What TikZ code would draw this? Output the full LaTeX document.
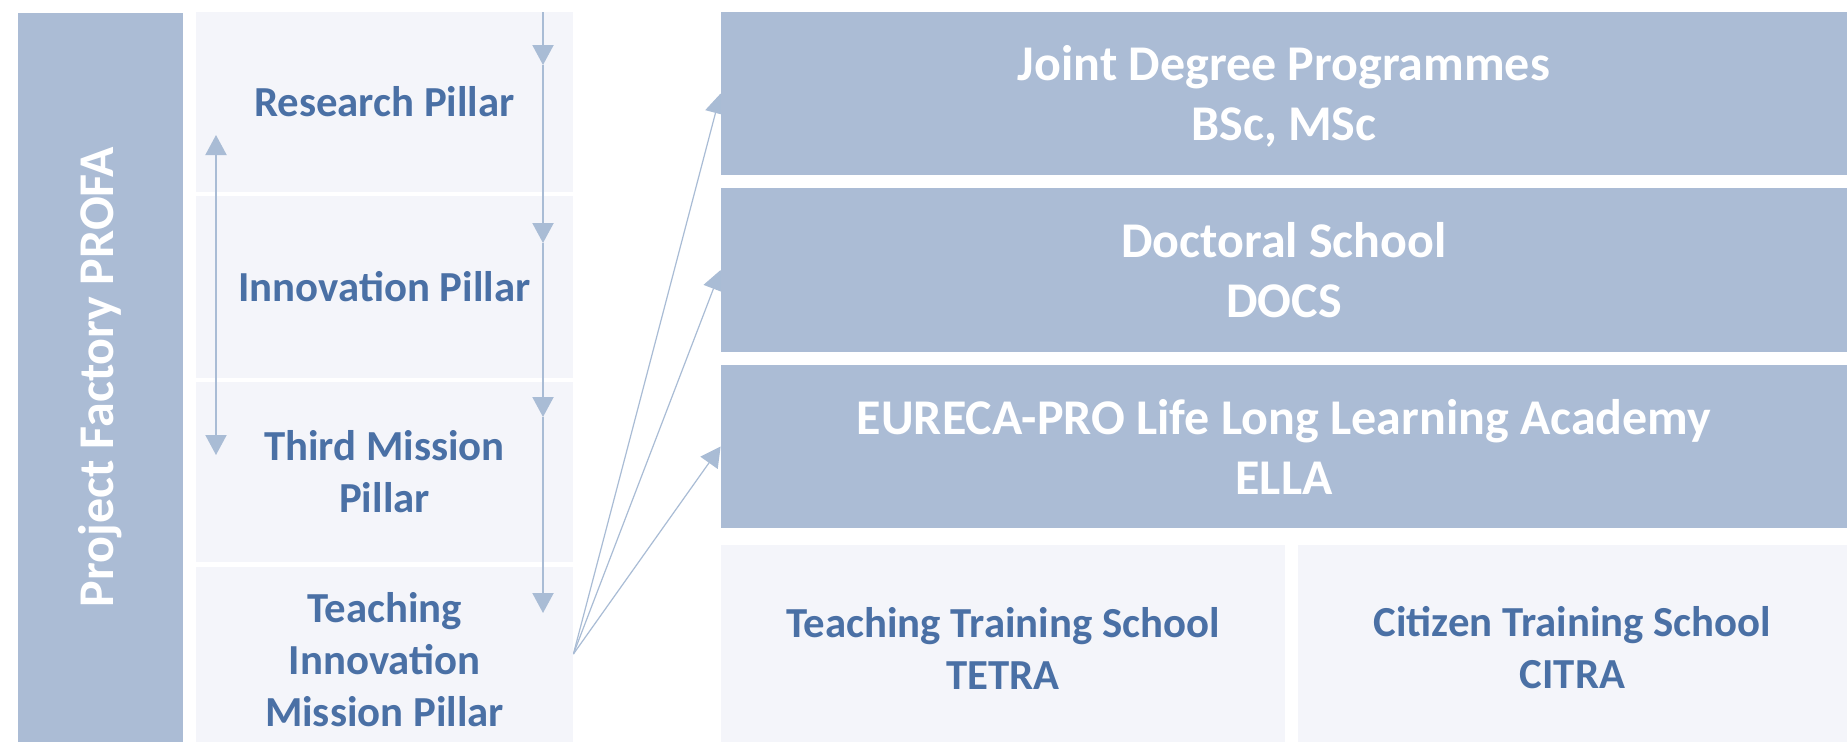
\documentclass[tikz,border=0pt]{standalone}
\usepackage{fontspec}
\setmainfont{Carlito}
\usetikzlibrary{arrows.meta,backgrounds}

\definecolor{barblue}{HTML}{ABBCD5}
\definecolor{pillarbg}{HTML}{F4F5FA}
\definecolor{textblue}{HTML}{4A70A5}
\definecolor{arrowblue}{HTML}{A9BCD5}

\newcommand{\pillar}[4]{% #1: name, #2: y centre, #3: height, #4: text
	\node[pillarbox,minimum height=#3] (#1) at (384.5,#2) {#4};
}
\newcommand{\school}[4]{% #1: name, #2: y centre, #3: height, #4: text
	\node[schoolbox,minimum height=#3] (#1) at (1284,#2) {#4};
}

\tikzset{flowtip/.tip={Triangle[width=10.5pt,length=10pt]}}

\begin{document}
\begin{tikzpicture}[x=0.5pt,y=-0.5pt,
	pillarbox/.style={fill=pillarbg,text=textblue,align=center,inner sep=0pt,
		minimum width=188.5pt,font=\fontsize{21.4}{26}\selectfont\bfseries},
	schoolbox/.style={fill=barblue,text=white,align=center,inner sep=0pt,
		minimum width=563pt,font=\fontsize{25}{30}\selectfont\bfseries},
	trainbox/.style={pillarbox,minimum height=103pt},
	flow/.style={draw=arrowblue,line width=1pt,-flowtip,arrowblue},
	fan/.style={draw=arrowblue,line width=0.6pt,-flowtip,arrowblue}]

	% Fix the page
	\useasboundingbox (0,0) rectangle (1847,741);
	\begin{pgfonlayer}{background}
		\fill[white] (0,0) rectangle (1847,741);
	\end{pgfonlayer}

	% Project factory bar
	\node[fill=barblue,text=white,rotate=90,inner sep=0pt,
		minimum width=364.5pt,minimum height=82.5pt,
		font=\fontsize{25}{30}\selectfont\bfseries] (profa) at (100.5,377) {Project Factory PROFA};

	% Making pillars
	\pillar{research}{102}{90pt}{Research Pillar}
	\pillar{innovation}{287}{91pt}{Innovation Pillar}
	\pillar{third}{472}{90pt}{Third Mission\\Pillar}
	\pillar{teaching}{660}{93pt}{Teaching\\Innovation\\Mission Pillar}

	% Making schools
	\school{joint}{93.5}{81.5pt}{Joint Degree Programmes\\BSc\smash{,} MSc}
	\school{docs}{270}{82pt}{Doctoral School\\DOCS}
	\school{ella}{446.5}{81.5pt}{EURECA-PRO Life Long Learning Academy\\ELLA}
	\node[trainbox,minimum width=282pt] (tetra) at (1003,648) {Teaching Training School\\TETRA};
	\node[trainbox,minimum width=274.5pt] (citra) at (1572.5,648) {Citizen Training School\\CITRA};

	% Arrows down the pillars
	\foreach \n/\y in {0/12,1/65,2/243,3/417,4/613} \coordinate (d\n) at (543,\y);
	\foreach \a/\b in {0/1,1/2,2/3,3/4} \draw[flow] (d\a) -- (d\b);

	% Arrow up and down
	\coordinate (up) at (216,135);
	\coordinate (dn) at (216,455);
	\draw[flow,flowtip-flowtip] (up) -- (dn);

	% Arrows to the schools
	\begin{pgfonlayer}{background}
		\foreach \t in {joint,docs,ella} \draw[fan] (teaching.east |- 0,654) -- (\t.west);
	\end{pgfonlayer}

\end{tikzpicture}
\end{document}
